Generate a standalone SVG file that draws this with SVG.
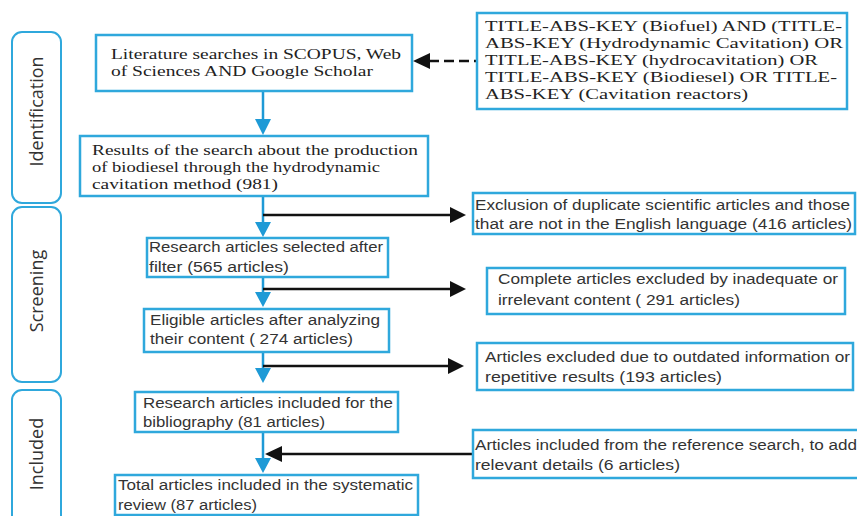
<svg xmlns="http://www.w3.org/2000/svg" width="857" height="516" viewBox="0 0 857 516">
<style>
.box{fill:#fff;stroke:#2fa8dc;stroke-width:2.5}
.side{fill:#fff;stroke:#2fa8dc;stroke-width:2}
.serif{font-family:"Liberation Serif",serif;font-size:14.5px;fill:#222}
.sans{font-family:"Liberation Sans",sans-serif;font-size:14px;fill:#333}
.lab{font-family:"Open Sans","Liberation Sans",sans-serif;font-size:18px;fill:#333;text-anchor:middle}
.vline{stroke:#1e9ad6;stroke-width:2.5;fill:none}
.hline{stroke:#111;stroke-width:2.5;fill:none}
.bh{fill:#1e9ad6}
.kh{fill:#111}
</style>
<rect width="857" height="516" fill="#fff"/>
<g id="side-identification"><rect class="side" x="12" y="32" width="49" height="171" rx="10"/><text class="lab" transform="translate(43,111.5) rotate(-90)">Identification</text></g>
<g id="side-screening"><rect class="side" x="12" y="207" width="49" height="175" rx="10"/><text class="lab" transform="translate(43,291) rotate(-90)">Screening</text></g>
<g id="side-included"><rect class="side" x="12" y="390" width="49" height="135" rx="10"/><text class="lab" transform="translate(43,454) rotate(-90)">Included</text></g>

<g id="connectors">
<line class="vline" x1="263" y1="91" x2="263" y2="120"/><polygon class="bh" points="255,119 271,119 263,135"/>
<line class="vline" x1="263" y1="196" x2="263" y2="223"/><polygon class="bh" points="255,222 271,222 263,237"/>
<line class="vline" x1="263" y1="277" x2="263" y2="293"/><polygon class="bh" points="255,292 271,292 263,307"/>
<line class="vline" x1="263" y1="352" x2="263" y2="369"/><polygon class="bh" points="255,368 271,368 263,383"/>
<line class="vline" x1="263" y1="432" x2="263" y2="459"/><polygon class="bh" points="255,458 271,458 263,473"/>
<line class="hline" x1="263" y1="215" x2="451" y2="215"/><polygon class="kh" points="450,207 450,223 466,215"/>
<line class="hline" x1="263" y1="289" x2="451" y2="289"/><polygon class="kh" points="450,281 450,297 466,289"/>
<line class="hline" x1="263" y1="366" x2="449" y2="366"/><polygon class="kh" points="448,358 448,374 464,366"/>
<line class="hline" x1="281" y1="454" x2="473" y2="454"/><polygon class="kh" points="282,446 282,462 265,454"/>
<line class="hline" x1="429" y1="61" x2="477" y2="61" stroke-dasharray="10,5"/><polygon class="kh" points="430,53 430,69 413,61"/>
</g>

<g id="n-title"><rect class="box" x="477" y="13" width="370" height="96"/>
<text class="serif" lengthAdjust="spacingAndGlyphs"><tspan x="485" y="31" textLength="357" lengthAdjust="spacingAndGlyphs">TITLE-ABS-KEY (Biofuel) AND (TITLE-</tspan><tspan x="485" y="47.5" textLength="358" lengthAdjust="spacingAndGlyphs">ABS-KEY (Hydrodynamic Cavitation) OR</tspan><tspan x="485" y="64.5" textLength="333" lengthAdjust="spacingAndGlyphs">TITLE-ABS-KEY (hydrocavitation) OR</tspan><tspan x="485" y="81.5" textLength="352" lengthAdjust="spacingAndGlyphs">TITLE-ABS-KEY (Biodiesel) OR TITLE-</tspan><tspan x="485" y="98.5" textLength="263" lengthAdjust="spacingAndGlyphs">ABS-KEY (Cavitation reactors)</tspan></text></g>

<g id="n-lit"><rect class="box" x="96" y="35" width="316" height="56"/>
<text class="serif"><tspan x="111" y="58.5" textLength="290" lengthAdjust="spacingAndGlyphs">Literature searches in SCOPUS, Web</tspan><tspan x="111" y="75.5" textLength="262" lengthAdjust="spacingAndGlyphs">of Sciences AND Google Scholar</tspan></text></g>

<g id="n-results"><rect class="box" x="80" y="136" width="348" height="60"/>
<text class="serif"><tspan x="92" y="154.5" textLength="326" lengthAdjust="spacingAndGlyphs">Results of the search about the production</tspan><tspan x="92" y="171.5" textLength="288" lengthAdjust="spacingAndGlyphs">of biodiesel through the hydrodynamic</tspan><tspan x="92" y="188.5" textLength="186" lengthAdjust="spacingAndGlyphs">cavitation method (981)</tspan></text></g>

<g id="n-dup"><rect class="box" x="473" y="193" width="382" height="41"/>
<text class="sans"><tspan x="475" y="210" textLength="375" lengthAdjust="spacingAndGlyphs">Exclusion of duplicate scientific articles and those</tspan><tspan x="475" y="229" textLength="377" lengthAdjust="spacingAndGlyphs">that are not in the English language (416 articles)</tspan></text></g>

<g id="n-565"><rect class="box" x="147" y="238" width="241" height="39"/>
<text class="sans"><tspan x="149" y="252" textLength="234" lengthAdjust="spacingAndGlyphs">Research articles selected after</tspan><tspan x="149" y="272" textLength="140" lengthAdjust="spacingAndGlyphs">filter  (565 articles)</tspan></text></g>

<g id="n-291"><rect class="box" x="487" y="268" width="358" height="46"/>
<text class="sans"><tspan x="498" y="284" textLength="340" lengthAdjust="spacingAndGlyphs">Complete articles excluded by inadequate or</tspan><tspan x="498" y="305" textLength="242" lengthAdjust="spacingAndGlyphs">irrelevant content  ( 291 articles)</tspan></text></g>

<g id="n-274"><rect class="box" x="144" y="309" width="245" height="43"/>
<text class="sans"><tspan x="150" y="325" textLength="230" lengthAdjust="spacingAndGlyphs">Eligible articles after analyzing</tspan><tspan x="150" y="344" textLength="203" lengthAdjust="spacingAndGlyphs">their content ( 274 articles)</tspan></text></g>

<g id="n-193"><rect class="box" x="477" y="343" width="376" height="47"/>
<text class="sans"><tspan x="485" y="362" textLength="365" lengthAdjust="spacingAndGlyphs">Articles excluded due to outdated information or</tspan><tspan x="485" y="382" textLength="237" lengthAdjust="spacingAndGlyphs">repetitive results  (193 articles)</tspan></text></g>

<g id="n-81"><rect class="box" x="135" y="392" width="263" height="40"/>
<text class="sans"><tspan x="143" y="408" textLength="250" lengthAdjust="spacingAndGlyphs">Research articles included for the</tspan><tspan x="143" y="427" textLength="182" lengthAdjust="spacingAndGlyphs">bibliography (81 articles)</tspan></text></g>

<g id="n-6"><rect class="box" x="473" y="430" width="390" height="48"/>
<text class="sans"><tspan x="475" y="450" textLength="382" lengthAdjust="spacingAndGlyphs">Articles included from the reference search, to add</tspan><tspan x="475" y="470" textLength="205" lengthAdjust="spacingAndGlyphs">relevant details (6 articles)</tspan></text></g>

<g id="n-87"><rect class="box" x="115" y="475" width="303" height="40"/>
<text class="sans"><tspan x="118" y="490" textLength="295" lengthAdjust="spacingAndGlyphs">Total articles included in the systematic</tspan><tspan x="118" y="510" textLength="139" lengthAdjust="spacingAndGlyphs">review (87 articles)</tspan></text></g>
</svg>
